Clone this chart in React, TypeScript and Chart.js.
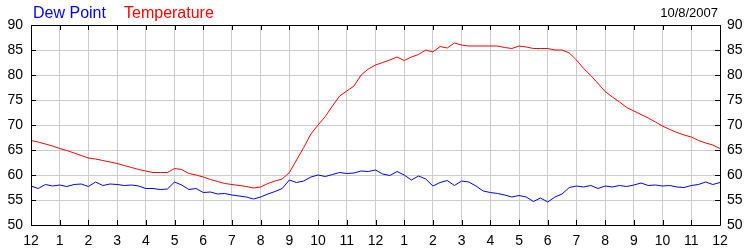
import React, { useEffect, useRef } from "react";
import { Chart, registerables } from "chart.js";

Chart.register(...registerables);

const TITLE_DATE = "10/8/2007";
const SERIES_NAMES = ["Dew Point", "Temperature"];
const SAMPLE_STEP_HOURS = 0.25;
const HOUR_TICKS = [12, 1, 2, 3, 4, 5, 6, 7, 8, 9, 10, 11, 12, 1, 2, 3, 4, 5, 6, 7, 8, 9, 10, 11, 12];
const Y_MIN = 50;
const Y_MAX = 90;
const Y_STEP = 5;

const TEMPERATURE = [
  66.9, 66.6, 66.2, 65.8, 65.3, 64.9, 64.4, 63.9, 63.4, 63.2, 62.9, 62.6,
  62.3, 61.9, 61.5, 61.1, 60.8, 60.5, 60.5, 60.5, 61.3, 61.1, 60.3, 60.0,
  59.6, 59.1, 58.7, 58.3, 58.1, 57.9, 57.7, 57.4, 57.6, 58.3, 58.8, 59.2,
  60.5, 63.0, 65.5, 68.2, 70.0, 71.7, 73.8, 75.8, 76.8, 77.8, 80.0, 81.2,
  82.0, 82.5, 83.0, 83.6, 82.9, 83.6, 84.1, 85.0, 84.6, 85.7, 85.4, 86.4,
  86.0, 85.8, 85.8, 85.8, 85.8, 85.8, 85.5, 85.3, 85.8, 85.6, 85.3, 85.3,
  85.3, 85.0, 85.0, 84.4, 83.0, 81.3, 79.9, 78.3, 76.7, 75.6, 74.6, 73.5,
  72.8, 72.1, 71.4, 70.6, 69.8, 69.1, 68.5, 68.0, 67.6, 66.9, 66.4, 66.0,
  65.3,
];

const DEW_POINT = [
  57.8, 57.3, 58.1, 57.8, 58.0, 57.7, 58.1, 58.2, 57.7, 58.6, 57.9, 58.2,
  58.1, 57.9, 58.0, 57.8, 57.3, 57.3, 57.1, 57.2, 58.6, 58.0, 57.1, 57.3,
  56.5, 56.6, 56.2, 56.3, 56.0, 55.8, 55.6, 55.2, 55.6, 56.2, 56.7, 57.3,
  59.0, 58.5, 58.8, 59.6, 60.0, 59.7, 60.1, 60.5, 60.3, 60.4, 60.8, 60.7,
  61.0, 60.2, 59.9, 60.7, 60.0, 59.0, 59.8, 59.2, 57.8, 58.5, 58.9, 57.9,
  58.8, 58.6, 57.8, 56.8, 56.5, 56.3, 56.0, 55.6, 55.9, 55.6, 54.7, 55.4,
  54.6, 55.6, 56.2, 57.5, 57.8, 57.6, 57.9, 57.3, 57.8, 57.6, 57.9, 57.7,
  58.0, 58.4, 57.9, 58.0, 57.8, 57.9, 57.6, 57.5, 57.9, 58.1, 58.6, 58.1,
  58.5,
];

const FONT = "'Liberation Sans', Arial, sans-serif";

const frame = {
  id: "frame",
  afterDraw(chart: any) {
    const { ctx, chartArea: a, scales } = chart;
    ctx.save();
    ctx.strokeStyle = "#000";
    ctx.lineWidth = 1;
    ctx.beginPath();
    ctx.rect(Math.round(a.left) + 0.5, Math.round(a.top) + 0.5, Math.round(a.right - a.left), Math.round(a.bottom - a.top));
    ctx.stroke();
    ctx.beginPath();
    scales.x.ticks.forEach((t: any) => {
      const x = Math.round(scales.x.getPixelForValue(t.value)) + 0.5;
      ctx.moveTo(x, a.top);
      ctx.lineTo(x, a.top + 5);
      ctx.moveTo(x, a.bottom);
      ctx.lineTo(x, a.bottom - 5);
    });
    scales.y.ticks.forEach((t: any) => {
      const y = Math.round(scales.y.getPixelForValue(t.value)) + 0.5;
      ctx.moveTo(a.left, y);
      ctx.lineTo(a.left + 5, y);
      ctx.moveTo(a.right, y);
      ctx.lineTo(a.right - 5, y);
    });
    ctx.stroke();
    ctx.font = `16px ${FONT}`;
    ctx.textBaseline = "alphabetic";
    ctx.textAlign = "left";
    ctx.fillStyle = "#0000ff";
    ctx.fillText(SERIES_NAMES[0], 33, 18);
    ctx.fillStyle = "#ff0000";
    ctx.fillText(SERIES_NAMES[1], 124, 18);
    ctx.font = `13px ${FONT}`;
    ctx.fillStyle = "#000";
    ctx.textAlign = "right";
    ctx.fillText(TITLE_DATE, 718, 17);
    ctx.restore();
  },
};

export default function App() {
  const ref = useRef<HTMLCanvasElement>(null);
  useEffect(() => {
    document.body.style.margin = "0";
    const toPts = (vals: number[]) => vals.map((v, i) => ({ x: i * SAMPLE_STEP_HOURS, y: v }));
    const yTicks = {
      stepSize: Y_STEP,
      color: "#000",
      font: { family: FONT, size: 14 },
    };
    const chart = new Chart(ref.current!, {
      type: "line",
      data: {
        datasets: [
          {
            label: SERIES_NAMES[1],
            data: toPts(TEMPERATURE),
            borderColor: "#ff0000",
            borderWidth: 1,
            pointRadius: 0,
            tension: 0,
            yAxisID: "y",
          },
          {
            label: SERIES_NAMES[0],
            data: toPts(DEW_POINT),
            borderColor: "#0000ff",
            borderWidth: 1,
            pointRadius: 0,
            tension: 0,
            yAxisID: "y",
          },
        ],
      },
      options: {
        animation: false,
        responsive: false,
        devicePixelRatio: 1,
        layout: { padding: { top: 25, left: 0, right: 0, bottom: 0 } },
        plugins: { legend: { display: false }, tooltip: { enabled: false } },
        scales: {
          x: {
            type: "linear",
            min: 0,
            max: 24,
            grid: { color: "#cccccc", drawTicks: false },
            border: { display: false },
            ticks: {
              stepSize: 1,
              autoSkip: false,
              maxRotation: 0,
              padding: 8,
              color: "#000",
              font: { family: FONT, size: 14 },
              callback: (v: any) => String(HOUR_TICKS[Math.round(v)]),
            },
            afterFit: (s: any) => {
              s.height = 25;
            },
          },
          y: {
            position: "left",
            min: Y_MIN,
            max: Y_MAX,
            grid: { color: "#cccccc", drawTicks: false },
            border: { display: false },
            ticks: { ...yTicks, padding: 8 },
            afterFit: (s: any) => {
              s.width = 31;
            },
          },
          y2: {
            position: "right",
            min: Y_MIN,
            max: Y_MAX,
            grid: { drawOnChartArea: false, drawTicks: false },
            border: { display: false },
            ticks: { ...yTicks, padding: 7 },
            afterFit: (s: any) => {
              s.width = 30;
            },
          },
        },
      },
      plugins: [frame],
    });
    return () => chart.destroy();
  }, []);
  return <canvas ref={ref} width={750} height={250} style={{ display: "block" }} />;
}
